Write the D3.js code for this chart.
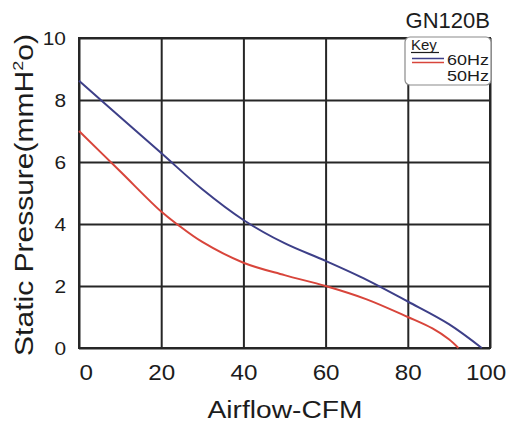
<!DOCTYPE html>
<html><head><meta charset="utf-8">
<script src="https://cdn.jsdelivr.net/npm/d3@7"></script>
<style>
body{margin:0;background:#fff}
svg{display:block}
text{font-family:"Liberation Sans",Arial,Helvetica,sans-serif;fill:#1c1c1c}
</style>
</head><body>
<svg id="chart" width="507" height="424"></svg>
<script>
// ---- data ----
const chartTitle = "GN120B";
const xTicks = [0, 20, 40, 60, 80, 100];
const yTicks = [0, 2, 4, 6, 8, 10];
const seriesNames = ["60Hz", "50Hz"];
const hz60X = [0, 10, 20, 30, 40, 50, 60, 70, 80, 90, 98];
const hz60Y = [8.62, 7.45, 6.29, 5.12, 4.13, 3.38, 2.81, 2.2, 1.5, 0.77, 0];
const hz50X = [0, 10, 20, 24, 30, 40, 50, 60, 70, 80, 86, 90, 92.3];
const hz50Y = [7.0, 5.7, 4.4, 3.98, 3.42, 2.75, 2.35, 2.0, 1.57, 1.0, 0.63, 0.28, 0];
const xLabel = "Airflow-CFM";
const yLabelMain = "Static Pressure(mmH";
const yLabelSup = "2";
const yLabelEnd = "o)";
const keyLabel = "Key";

// ---- layout ----
const svg = d3.select("#chart");
const L = 79, R = 490, T = 38, B = 348;
const colors = ["#3d3f88", "#d8453b"];
const x = d3.scaleLinear().domain([0, 100]).range([L, R]);
const y = d3.scaleLinear().domain([0, 10]).range([B, T]);

function hscale(sel, target) {
  sel.each(function () {
    const w = this.getBBox().width;
    const s = target / w;
    d3.select(this).attr("transform", (d3.select(this).attr("transform") || "") + ` scale(${s},1)`);
  });
}

// grid via axes
const gx = svg.append("g").attr("transform", `translate(0,${B})`)
  .call(d3.axisBottom(x).tickValues(xTicks).tickSize(-(B - T)).tickFormat(d3.format("d")));
gx.select(".domain").remove();
gx.selectAll(".tick line").attr("stroke", "#262626").attr("stroke-width", 2);
gx.selectAll(".tick text")
  .attr("y", 32).attr("dy", 0)
  .attr("font-size", 22).attr("fill", "#1c1c1c")
  .attr("dx", (d, i) => i === 0 ? 6 : (i === xTicks.length - 1 ? -4 : 0))
  .attr("transform", "scale(1.1,1)");

const gy = svg.append("g").attr("transform", `translate(${L},0)`)
  .call(d3.axisLeft(y).tickValues(yTicks).tickSize(-(R - L)).tickFormat(d3.format("d")));
gy.select(".domain").remove();
gy.selectAll(".tick line").attr("stroke", "#262626").attr("stroke-width", 2);
gy.selectAll(".tick text")
  .attr("x", -13 / 1.1).attr("dy", "0.36em")
  .attr("font-size", 19).attr("fill", "#1c1c1c")
  .attr("transform", "scale(1.1,1)");

// frame
svg.append("rect").attr("x", L).attr("y", T).attr("width", R - L).attr("height", B - T)
  .attr("fill", "none").attr("stroke", "#262626").attr("stroke-width", 2);

// curves
const line = d3.line().x(d => x(d[0])).y(d => y(d[1])).curve(d3.curveCatmullRom.alpha(0.5));
const series = [d3.zip(hz60X, hz60Y), d3.zip(hz50X, hz50Y)];
series.forEach((s, i) => {
  svg.append("path").datum(s).attr("d", line)
    .attr("fill", "none").attr("stroke", colors[i]).attr("stroke-width", 2);
});

// title
svg.append("text").attr("x", 490).attr("y", 28).attr("text-anchor", "end")
  .attr("font-size", 22).text(chartTitle);

// legend
const lg = svg.append("g");
lg.append("rect").attr("x", 405).attr("y", 37).attr("width", 86).attr("height", 48)
  .attr("rx", 5).attr("fill", "#fff").attr("stroke", "#8a8a8a").attr("stroke-width", 1.2);
lg.append("text").attr("x", 411).attr("y", 50).attr("font-size", 15).text(keyLabel);
lg.append("line").attr("x1", 411).attr("x2", 439).attr("y1", 52.5).attr("y2", 52.5)
  .attr("stroke", "#1c1c1c").attr("stroke-width", 1.2);
seriesNames.forEach((n, i) => {
  lg.append("line").attr("x1", 412).attr("x2", 444).attr("y1", 58.5 + i * 4).attr("y2", 58.5 + i * 4)
    .attr("stroke", colors[i]).attr("stroke-width", 1.5);
  const t = lg.append("text").attr("x", 0).attr("y", 65.5 + i * 16).attr("text-anchor", "end")
    .attr("font-size", 14.5).attr("transform", "translate(489,0)").text(n);
  hscale(t, 42);
});

// axis titles
const xt = svg.append("text").attr("x", 0).attr("y", 418).attr("text-anchor", "middle")
  .attr("font-size", 23).attr("transform", "translate(285,0)").text(xLabel);
hscale(xt, 155);

const yg = svg.append("g").attr("transform", "translate(33,195) rotate(-90)");
const yt = yg.append("text").attr("x", 0).attr("y", 0).attr("text-anchor", "middle").attr("font-size", 25);
yt.append("tspan").text(yLabelMain);
yt.append("tspan").attr("dy", -10).attr("font-size", 15).text(yLabelSup);
yt.append("tspan").attr("dy", 10).text(yLabelEnd);
hscale(yt, 322);
</script>
</body></html>
